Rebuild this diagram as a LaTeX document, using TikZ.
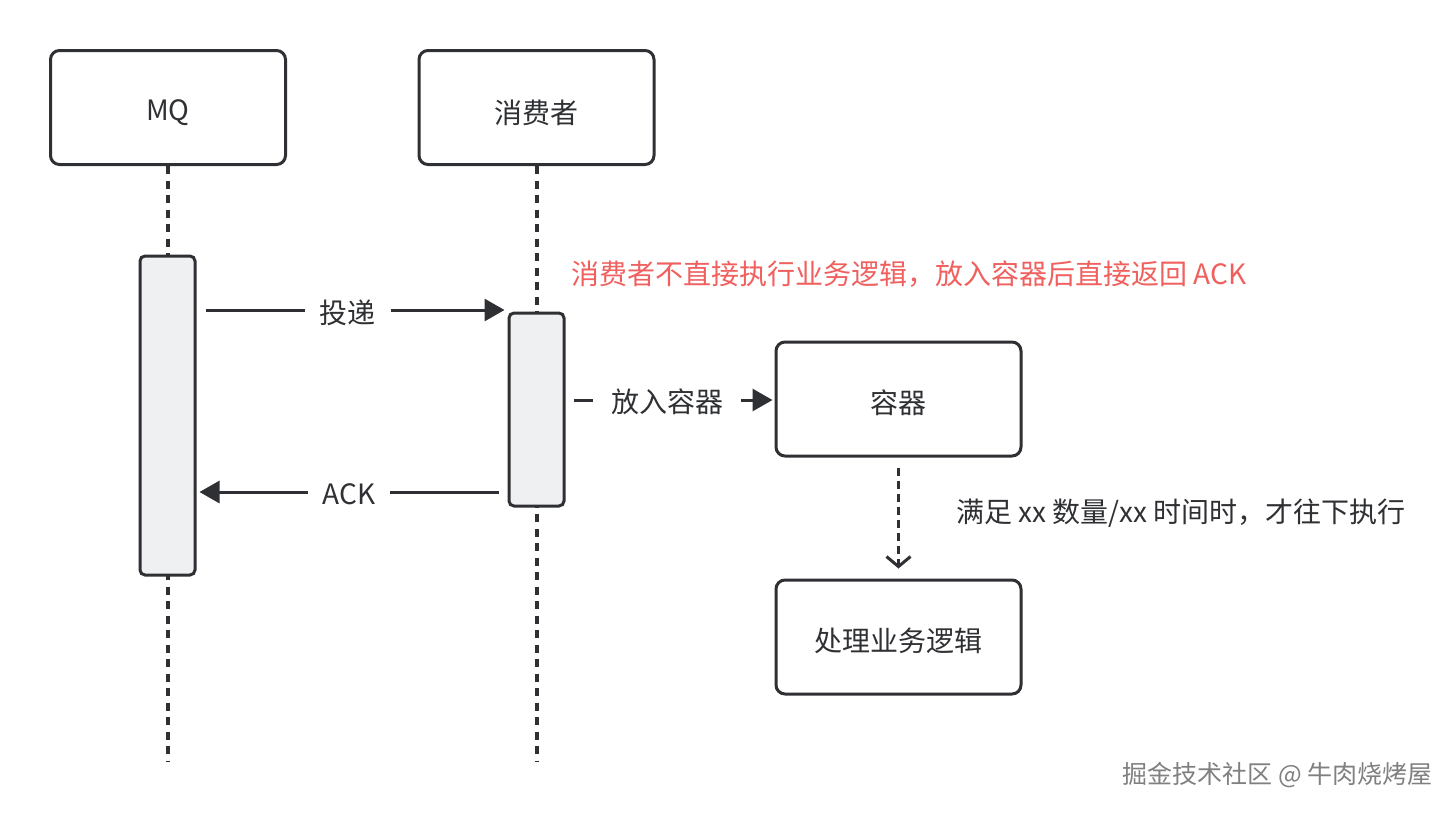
\documentclass[tikz,border=0pt]{standalone}
\usepackage{fontspec}
\setmainfont{Noto Sans CJK SC}
\usetikzlibrary{arrows.meta}
\definecolor{ink}{HTML}{2E3033}
\definecolor{actfill}{HTML}{EEF0F2}
\definecolor{redtxt}{HTML}{F0605F}
\definecolor{wm}{HTML}{808080}
\newcommand{\lowtxt}[2][4pt]{\raisebox{-#1}[\height][\depth]{#2}}
\begin{document}
\begin{tikzpicture}[x=1pt,y=-1pt,
  font=\fontsize{28}{33}\selectfont,
  box/.style={draw=ink, line width=3pt, rounded corners=9pt, fill=white, text=ink,
    minimum width=235pt, minimum height=114pt, inner sep=0pt},
  actbox/.style={draw=ink, line width=3pt, rounded corners=5pt, fill=actfill,
    minimum width=55pt, inner sep=0pt},
  lifeline/.style={draw=ink, line width=3.5pt, dash pattern=on 8pt off 6.5pt},
  msg/.style={draw=ink, line width=3pt, -{Triangle[length=20pt,width=22pt]}},
  msglabel/.style={fill=white, text=ink, inner xsep=15pt, inner ysep=2pt},
  waitarrow/.style={draw=ink, line width=3pt, dash pattern=on 8pt off 5pt,
    -{Straight Barb[length=10pt,width=24pt,line width=3pt]}},
  note/.style={anchor=west, inner sep=0pt}
]
\useasboundingbox (0,0) rectangle (1454,812);
\fill[white] (0,0) rectangle (1454,812);

% participants
\node[box] (mq) at (168,107.5) {\lowtxt[5pt]{MQ}};
\node[box] (cons) at (536.5,107.5) {\lowtxt[5pt]{消费者}};

% lifeline ends
\coordinate (mqend) at (168,762);
\coordinate (consend) at (537,762);
\draw[lifeline] (mq.south) -- (mqend);
\draw[lifeline] (cons.south -| consend) -- (consend);

% activations
\node[actbox, minimum height=319pt] (mqact) at (167.5,415.5) {};
\node[actbox, minimum height=193pt] (consact) at (536.5,409.5) {};

% container boxes
\node[box, minimum width=245pt] (container) at (898.5,399) {\lowtxt[4pt]{容器}};
\node[box, minimum width=245pt] (proc) at (898.5,637) {\lowtxt[4pt]{处理业务逻辑}};

% message rows
\coordinate (dy1) at (0,310);
\coordinate (dy2) at (0,492);
\coordinate (dy3) at (0,400);

\draw[msg] ([xshift=9pt]mqact.east |- dy1) -- node[msglabel, pos=0.475] {\lowtxt[2.5pt]{投递}} ([xshift=-3pt]consact.west |- dy1);
\draw[msg] ([xshift=-9pt]consact.west |- dy2) -- node[msglabel] {\lowtxt[2.5pt]{ACK}} ([xshift=3pt]mqact.east |- dy2);
\draw[msg] ([xshift=8pt]consact.east |- dy3) -- node[msglabel, pos=0.47, inner xsep=18pt] {\lowtxt[2pt]{放入容器}} ([xshift=-2pt]container.west |- dy3);

% wait arrow
\draw[waitarrow] ([yshift=-10pt]container.south) -- ([yshift=10pt]proc.north);

% notes
\node[note, text=redtxt] (rednote) at (571,274) {消费者不直接执行业务逻辑，放入容器后直接返回 ACK};
\node[note, text=ink] (waitnote) at (956,513) {满足 xx 数量/xx 时间时，才往下执行};

% watermark
\node[anchor=east, inner sep=0pt, text=wm, font=\fontsize{25}{30}\selectfont] (wmark) at (1433,775) {掘金技术社区 @ 牛肉烧烤屋};
\end{tikzpicture}
\end{document}
